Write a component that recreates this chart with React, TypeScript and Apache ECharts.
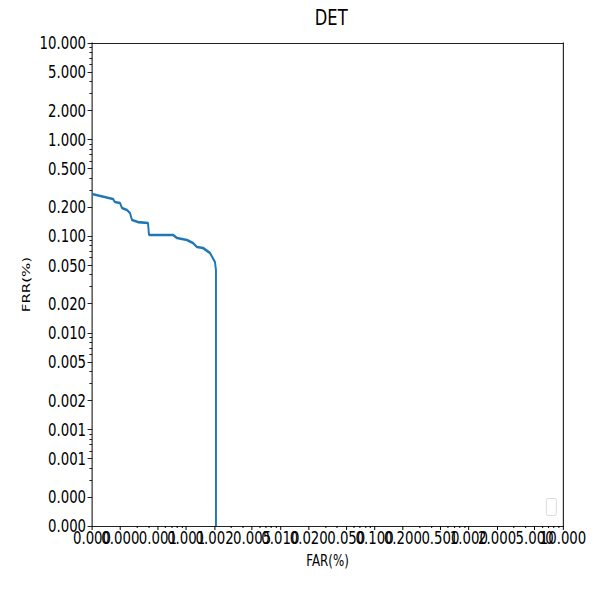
import React, { useEffect, useRef } from "react";
import * as echarts from "echarts";

// ---- data ----
const farValues = [
  0.0001, 0.000167, 0.000175, 0.000198, 0.000208, 0.000235, 0.000253, 0.000266,
  0.000308, 0.000393, 0.000403, 0.000724, 0.000798, 0.00102, 0.00118, 0.0013,
  0.00151, 0.00179, 0.00202, 0.00207, 0.00207,
];
const frrValues = [
  0.274, 0.243, 0.226, 0.221, 0.196, 0.187, 0.174, 0.147,
  0.14, 0.137, 0.103, 0.103, 0.0958, 0.0914, 0.0851, 0.0773,
  0.0755, 0.067, 0.0541, 0.0447, 0.0001,
];
const majorTicks = [
  0.0001, 0.0002, 0.0005, 0.001, 0.002, 0.005, 0.01, 0.02, 0.05, 0.1, 0.2, 0.5,
  1, 2, 5, 10,
];
const minorTicks = [
  0.0003, 0.0004, 0.0006, 0.0007, 0.0008, 0.0009,
  0.003, 0.004, 0.006, 0.007, 0.008, 0.009,
  0.03, 0.04, 0.06, 0.07, 0.08, 0.09,
  0.3, 0.4, 0.6, 0.7, 0.8, 0.9,
  3, 4, 6, 7, 8, 9,
];
const titleText = "DET";
const xName = "FAR(%)";
const yName = "FRR(%)";

// x labels split in two alternating sets so ECharts does not drop the
// overlapping neighbours of the first/last label (the reference shows all)
const xLabelsA = majorTicks.filter((_, i) => i % 2 === 0);
const xLabelsB = majorTicks.filter((_, i) => i % 2 === 1);

// ---- layout ----
const INNER_W = 807;
const S = 597 / INNER_W; // horizontal squeeze like the reference
const FONT = "DejaVu Sans, Noto Sans, sans-serif";
const TICK_FS = 18;

const fmt = (v: number) => {
  // round the log-axis value to its nominal tick before formatting
  const n = Number(v);
  const p = Math.pow(10, Math.floor(Math.log10(n)) - 3);
  const r = Math.round(n / p) * p;
  return (r + 1e-12).toFixed(3);
};

const baseAxis = {
  type: "log" as const,
  logBase: 10,
  min: 0.0001,
  max: 10,
  splitLine: { show: false },
  minorTick: { show: false },
  minorSplitLine: { show: false },
};

const labelStyle = {
  fontFamily: FONT,
  fontSize: TICK_FS,
  color: "#000",
  hideOverlap: false,
};

export default function App() {
  const ref = useRef<HTMLDivElement | null>(null);

  useEffect(() => {
    if (!ref.current) return;
    const chart = echarts.init(ref.current, undefined, { renderer: "svg" });
    const data = farValues.map((f, i) => [f, frrValues[i]]);
    const vW = 1 / S; // width that shows as 1px after the squeeze
    const option: any = {
      animation: false,
      backgroundColor: "#ffffff",
      title: {
        text: titleText,
        left: 327.5 / S,
        top: 2,
        textAlign: "center",
        textStyle: {
          fontFamily: FONT,
          fontSize: 22,
          fontWeight: "normal",
          color: "#000",
        },
      },
      grid: {
        left: 92 / S,
        right: 34 / S,
        top: 43,
        bottom: 71,
        show: false,
        containLabel: false,
        outerBoundsMode: "none",
      },
      xAxis: [
        {
          ...baseAxis,
          position: "bottom",
          name: xName,
          nameLocation: "middle",
          nameGap: 18,
          nameTextStyle: { fontFamily: FONT, fontSize: 16, color: "#000" },
          axisLine: { show: true, onZero: false, lineStyle: { color: "#000", width: 1 } },
          axisTick: {
            show: true,
            customValues: majorTicks,
            length: 4,
            lineStyle: { color: "#000", width: vW },
          },
          axisLabel: { ...labelStyle, customValues: xLabelsA, formatter: fmt, margin: 3 },
        },
        {
          ...baseAxis,
          position: "bottom",
          axisLine: { show: false },
          axisTick: { show: false },
          axisLabel: { ...labelStyle, customValues: xLabelsB, formatter: fmt, margin: 3 },
        },
        {
          ...baseAxis,
          position: "bottom",
          axisLine: { show: false },
          axisTick: {
            show: true,
            customValues: minorTicks,
            length: 2,
            lineStyle: { color: "#000", width: vW },
          },
          axisLabel: { show: false },
        },
        {
          ...baseAxis,
          position: "top",
          axisLine: { show: true, onZero: false, lineStyle: { color: "#000", width: 1 } },
          axisTick: { show: false },
          axisLabel: { show: false },
        },
      ],
      yAxis: [
        {
          ...baseAxis,
          position: "left",
          name: yName,
          nameLocation: "middle",
          nameGap: 73,
          nameRotate: 90,
          nameTextStyle: { fontFamily: FONT, fontSize: 15, color: "#000" },
          axisLine: { show: true, onZero: false, lineStyle: { color: "#000", width: vW } },
          axisTick: {
            show: true,
            customValues: majorTicks,
            length: 6,
            lineStyle: { color: "#000", width: 1 },
          },
          axisLabel: { ...labelStyle, customValues: majorTicks, formatter: fmt, margin: 8 },
        },
        {
          ...baseAxis,
          position: "left",
          axisLine: { show: false },
          axisTick: {
            show: true,
            customValues: minorTicks,
            length: 3.5,
            lineStyle: { color: "#000", width: 1 },
          },
          axisLabel: { show: false },
        },
        {
          ...baseAxis,
          position: "right",
          axisLine: { show: true, onZero: false, lineStyle: { color: "#000", width: vW } },
          axisTick: { show: false },
          axisLabel: { show: false },
        },
      ],
      graphic: [
        {
          type: "rect",
          left: 546 / S,
          top: 498,
          shape: { width: 10 / S, height: 17, r: 2 },
          style: { fill: "#fff", stroke: "#d6d6d6", lineWidth: 1 },
          z: 10,
        },
      ],
      series: [
        {
          type: "line",
          xAxisIndex: 0,
          yAxisIndex: 0,
          data,
          symbol: "none",
          showSymbol: false,
          clip: true,
          lineStyle: { color: "#1f77b4", width: 2.6 },
          itemStyle: { color: "#1f77b4" },
        },
      ],
    };
    chart.setOption(option);
    return () => {
      chart.dispose();
    };
  }, []);

  return (
    <div
      style={{
        position: "fixed",
        left: 0,
        top: 0,
        width: 597,
        height: 597,
        overflow: "hidden",
        background: "#fff",
      }}
    >
      <div
        ref={ref}
        style={{
          width: INNER_W,
          height: 597,
          transform: `scaleX(${S})`,
          transformOrigin: "0 0",
        }}
      />
    </div>
  );
}
